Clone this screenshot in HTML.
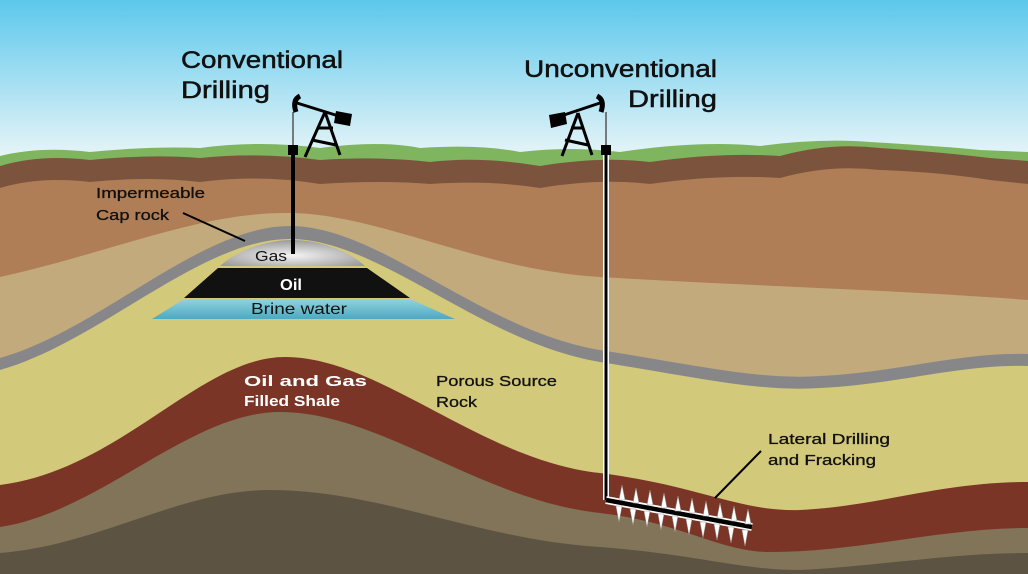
<!DOCTYPE html>
<html><head><meta charset="utf-8"><style>
html,body{margin:0;padding:0;width:1028px;height:574px;overflow:hidden;background:#fff}
text{font-family:"Liberation Sans",sans-serif}
</style></head><body>
<svg width="1028" height="574" viewBox="0 0 1028 574" xmlns="http://www.w3.org/2000/svg">
<defs>
<linearGradient id="sky" x1="0" y1="0" x2="0" y2="1">
<stop offset="0" stop-color="#5cc8ec"/><stop offset="1" stop-color="#eef7f8"/></linearGradient>
<radialGradient id="gas" cx="0.5" cy="0.6" r="0.6">
<stop offset="0" stop-color="#f4f4f4"/><stop offset="1" stop-color="#9a9a9a"/></radialGradient>
<linearGradient id="brine" x1="0" y1="0" x2="0" y2="1">
<stop offset="0" stop-color="#8fd3e0"/><stop offset="1" stop-color="#4fa9bd"/></linearGradient>
</defs>
<rect width="1028" height="165" fill="url(#sky)"/>
<path d="M0 156 Q40 146 90 152 Q150 146 200 148 Q260 140 320 148 Q380 140 420 148 Q480 144 520 152 Q570 146 620 152 Q700 140 760 146 Q820 138 870 142 Q940 146 980 150 L1028 152 L1028 574 L0 574Z" fill="#7fb55f"/>
<path d="M0 166 Q40 154 90 160 Q150 154 200 158 Q260 152 320 160 Q380 156 430 162 Q480 156 540 166 Q600 156 650 162 Q720 152 780 156 Q830 142 880 148 Q940 152 990 158 L1028 161 L1028 574 L0 574Z" fill="#7c543e"/>
<path d="M0 188 Q40 176 90 182 Q150 176 200 182 Q260 174 320 184 Q380 180 430 184 Q490 180 540 188 Q600 178 650 184 Q720 174 780 178 Q830 164 880 170 Q940 172 990 180 L1028 184 L1028 574 L0 574Z" fill="#b07e56"/>
<path d="M0 277 C120 250 200 212 290 213 C380 214 480 270 600 277 C750 286 900 290 1028 300 L1028 574 L0 574Z" fill="#c2aa7c"/>
<path d="M0 358 C100 330 200 226 290 226 C380 226 480 330 600 350 C700 366 760 380 820 376 C900 372 960 352 1028 354 L1028 574 L0 574Z" fill="#87878a"/>
<path d="M0 370 C100 342 200 239 290 239 C380 239 480 342 600 362 C700 378 760 392 820 388 C900 384 960 364 1028 366 L1028 574 L0 574Z" fill="#d3c97a"/>
<path d="M0 485 C120 470 200 357 285 357 C380 357 480 460 600 473 C700 486 740 512 800 510 C880 506 940 482 1028 482 L1028 574 L0 574Z" fill="#7b3526"/>
<path d="M0 527 C100 512 190 412 280 412 C380 412 480 500 600 513 C680 522 720 552 770 552 C860 552 940 528 1028 528 L1028 574 L0 574Z" fill="#817458"/>
<path d="M0 553 C100 545 180 490 270 490 C380 490 480 540 600 547 C700 555 740 570 800 570 C880 566 950 553 1028 553 L1028 574 L0 574Z" fill="#5d5343"/>
<path d="M220 266 C240 248 270 240 292 240 C315 240 345 248 365 266Z" fill="url(#gas)"/>
<path d="M218 268 L367 268 L410 298 L184 298Z" fill="#111"/>
<path d="M184 299 L410 299 L455 319 L152 319Z" fill="url(#brine)"/>
<text x="255" y="261" font-size="15" fill="#111" textLength="32" lengthAdjust="spacingAndGlyphs">Gas</text>
<text x="280" y="290" font-size="16" font-weight="bold" fill="#fff" textLength="22" lengthAdjust="spacingAndGlyphs">Oil</text>
<text x="251" y="314" font-size="16" fill="#111" textLength="96" lengthAdjust="spacingAndGlyphs">Brine water</text>
<line x1="293" y1="150" x2="293" y2="254" stroke="#000" stroke-width="4"/>
<line x1="293" y1="112" x2="293" y2="148" stroke="#555" stroke-width="1.5"/>
<rect x="288" y="145" width="10" height="10" fill="#000"/>
<path d="M296 112 Q292 100 300 96" stroke="#000" stroke-width="5" fill="none"/>
<line x1="297" y1="103" x2="345" y2="118" stroke="#000" stroke-width="3"/>
<polygon points="336,111 352,114 350,126 334,123" fill="#000"/>
<path d="M325 112 L305 157 M325 112 L340 155 M312 140 L336 145 M318 128 L333 128" stroke="#000" stroke-width="3" fill="none"/>
<line x1="606" y1="150" x2="606" y2="500" stroke="#fff" stroke-width="6"/>
<line x1="606" y1="150" x2="606" y2="500" stroke="#000" stroke-width="3"/>
<path d="M606 500 L752 527" stroke="#fff" stroke-width="8"/>
<path d="M606 500 L752 527" stroke="#000" stroke-width="4.5"/>
<line x1="606" y1="112" x2="606" y2="148" stroke="#555" stroke-width="1.5"/>
<rect x="601" y="145" width="10" height="10" fill="#000"/>
<path d="M601 112 Q605 100 597 96" stroke="#000" stroke-width="5" fill="none"/>
<line x1="600" y1="103" x2="555" y2="118" stroke="#000" stroke-width="3"/>
<polygon points="549,115 565,112 567,124 551,128" fill="#000"/>
<path d="M578 113 L562 156 M578 113 L592 155 M565 140 L588 145 M571 128 L584 128" stroke="#000" stroke-width="3" fill="none"/>
<g fill="#fff" stroke="#999" stroke-width="0.5">
<path d="M619 500 l3 -15 l3 15Z M633 503 l3 -15 l3 15Z M647 505 l3 -15 l3 15Z M661 508 l3 -15 l3 15Z M675 511 l3 -15 l3 15Z M689 513 l3 -15 l3 15Z M703 516 l3 -15 l3 15Z M717 518 l3 -15 l3 15Z M731 521 l3 -15 l3 15Z M745 524 l3 -15 l3 15Z"/>
<path d="M616 506 l3 16 l3 -16Z M630 509 l3 16 l3 -16Z M644 511 l3 16 l3 -16Z M658 514 l3 16 l3 -16Z M672 516 l3 16 l3 -16Z M686 519 l3 16 l3 -16Z M700 522 l3 16 l3 -16Z M714 524 l3 16 l3 -16Z M728 527 l3 16 l3 -16Z M742 530 l3 16 l3 -16Z"/>
</g>
<line x1="183" y1="213" x2="245" y2="241" stroke="#000" stroke-width="2"/>
<line x1="761" y1="451" x2="715" y2="498" stroke="#000" stroke-width="2"/>
<g fill="#111" stroke="#111" stroke-width="0.5">
<text x="181" y="68" font-size="24" textLength="162" lengthAdjust="spacingAndGlyphs">Conventional</text>
<text x="181" y="98" font-size="24" textLength="89" lengthAdjust="spacingAndGlyphs">Drilling</text>
<text x="524" y="77" font-size="24" textLength="193" lengthAdjust="spacingAndGlyphs">Unconventional</text>
<text x="628" y="107" font-size="24" textLength="89" lengthAdjust="spacingAndGlyphs">Drilling</text>
</g>
<g font-size="15" fill="#111" stroke="#111" stroke-width="0.3">
<text x="96" y="198" textLength="109" lengthAdjust="spacingAndGlyphs">Impermeable</text>
<text x="96" y="220" textLength="73" lengthAdjust="spacingAndGlyphs">Cap rock</text>
<text x="436" y="386" textLength="121" lengthAdjust="spacingAndGlyphs">Porous Source</text>
<text x="436" y="407" textLength="41" lengthAdjust="spacingAndGlyphs">Rock</text>
<text x="768" y="444" textLength="122" lengthAdjust="spacingAndGlyphs">Lateral Drilling</text>
<text x="768" y="465" textLength="108" lengthAdjust="spacingAndGlyphs">and Fracking</text>
</g>
<text x="244" y="386" font-size="15" font-weight="bold" fill="#fff" textLength="123" lengthAdjust="spacingAndGlyphs">Oil and Gas</text>
<text x="244" y="406" font-size="15" font-weight="bold" fill="#fff" textLength="96" lengthAdjust="spacingAndGlyphs">Filled Shale</text>
</svg>
</body></html>
